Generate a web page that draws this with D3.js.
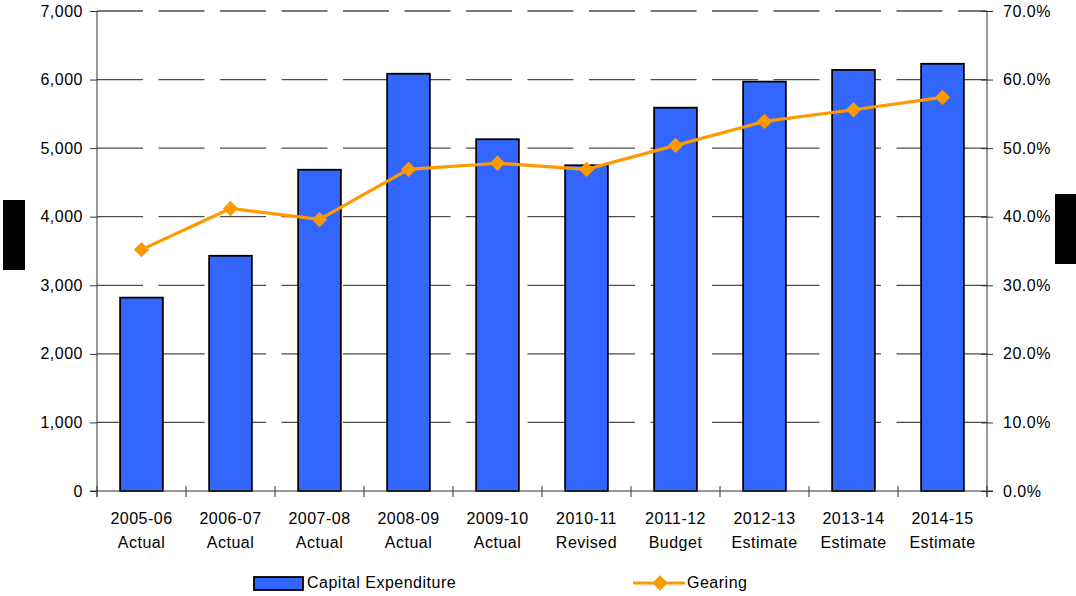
<!DOCTYPE html>
<html><head><meta charset="utf-8">
<script src="https://cdn.jsdelivr.net/npm/d3@7"></script>
<style>
body{margin:0;background:#fff;}
text{font-family:"Liberation Sans",Arial,sans-serif;font-size:16px;fill:#000;letter-spacing:0.5px;}
</style></head>
<body><svg id="c" width="1076" height="596"></svg>
<script>
const years = ["2005-06","2006-07","2007-08","2008-09","2009-10","2010-11","2011-12","2012-13","2013-14","2014-15"];
const stages = ["Actual","Actual","Actual","Actual","Actual","Revised","Budget","Estimate","Estimate","Estimate"];
const capex = [2820,3430,4685,6085,5130,4750,5590,5970,6140,6230];
const gearing = [35.2,41.2,39.6,46.9,47.8,46.9,50.4,53.9,55.6,57.4];
const leftTicks = [0,1000,2000,3000,4000,5000,6000,7000];
const rightTicks = [0,10,20,30,40,50,60,70];

const svg = d3.select("#c");
const L=97, R=987, T=11, B=491;
const x = d3.scaleBand().domain(d3.range(years.length)).range([L,R]).paddingInner(0.52).paddingOuter(0.26);
const xb = d3.scaleBand().domain(d3.range(years.length)).range([L,R]);
const y = d3.scaleLinear().domain([0,7000]).range([B,T]);
const y2 = d3.scaleLinear().domain([0,70]).range([B,T]);

// gridlines
svg.append("g").selectAll("line").data(leftTicks.filter(d=>d>0)).join("line")
  .attr("x1",L).attr("x2",R).attr("y1",d=>y(d)).attr("y2",d=>y(d))
  .attr("stroke","#4d4d4d").attr("stroke-width",1.3).attr("stroke-dasharray","46,15.5");

// bars
svg.append("g").selectAll("rect").data(capex).join("rect")
  .attr("x",(d,i)=>x(i)).attr("width",x.bandwidth())
  .attr("y",d=>y(d)).attr("height",d=>B-y(d))
  .attr("fill","#3366FF").attr("stroke","#000").attr("stroke-width",1.8);

// left axis
const fmt = d3.format(",");
const ga = svg.append("g").attr("transform",`translate(${L},0)`)
  .call(d3.axisLeft(y).tickValues(leftTicks).tickFormat(fmt).tickSize(7).tickPadding(7));
ga.select(".domain").attr("d",`M0,${T}V${B+6}`).attr("stroke","#333");
ga.selectAll(".tick line").attr("stroke","#333");
ga.selectAll("text").attr("font-size",null).attr("font-family",null);

// right axis
const gr = svg.append("g").attr("transform",`translate(${R},0)`)
  .call(d3.axisRight(y2).tickValues(rightTicks).tickFormat(d=>d.toFixed(1)+"%").tickSize(6).tickPadding(10));
gr.select(".domain").attr("d",`M0,${T}V${B+6}`).attr("stroke","#333");
gr.selectAll(".tick line").attr("x1",-6).attr("stroke","#333");
gr.selectAll("text").attr("font-size",null).attr("font-family",null);

// x axis
const gx = svg.append("g");
gx.append("line").attr("x1",L-7).attr("x2",R+6).attr("y1",B).attr("y2",B).attr("stroke","#333");
gx.selectAll("line.t").data(d3.range(years.length+1)).join("line").attr("class","t")
  .attr("x1",i=>L+i*xb.step()).attr("x2",i=>L+i*xb.step()).attr("y1",B-5).attr("y2",B+6).attr("stroke","#333");
const lab = gx.selectAll("text").data(years).join("text")
  .attr("text-anchor","middle").attr("x",(d,i)=>xb(i)+xb.bandwidth()/2);
lab.append("tspan").attr("x",(d,i)=>xb(i)+xb.bandwidth()/2).attr("y",524).text(d=>d);
lab.append("tspan").attr("x",(d,i)=>xb(i)+xb.bandwidth()/2).attr("y",548).text((d,i)=>stages[i]);

// gearing line
const cx = i => xb(i)+xb.bandwidth()/2;
svg.append("path").datum(gearing)
  .attr("d",d3.line().x((d,i)=>cx(i)).y(d=>y2(d)))
  .attr("fill","none").attr("stroke","#FF9900").attr("stroke-width",3.2);
const diamond = d3.symbol().type(d3.symbolDiamond2).size(150);
svg.append("g").selectAll("path").data(gearing).join("path")
  .attr("d",diamond).attr("transform",(d,i)=>`translate(${cx(i)},${y2(d)})`)
  .attr("fill","#FF9900");

// redacted axis titles
svg.append("rect").attr("x",3).attr("y",200).attr("width",22).attr("height",70).attr("fill","#000");
svg.append("rect").attr("x",1055).attr("y",194).attr("width",21).attr("height",70).attr("fill","#000");

// legend
const lg = svg.append("g");
lg.append("rect").attr("x",254).attr("y",577).attr("width",49).attr("height",13).attr("fill","#3366FF").attr("stroke","#000").attr("stroke-width",1.8);
lg.append("text").attr("x",307).attr("y",588).text("Capital Expenditure");
lg.append("line").attr("x1",633).attr("x2",685).attr("y1",583).attr("y2",583).attr("stroke","#FF9900").attr("stroke-width",3.2);
lg.append("path").attr("d",diamond).attr("transform","translate(660,583)").attr("fill","#FF9900");
lg.append("text").attr("x",687).attr("y",588).text("Gearing");
</script></body></html>
